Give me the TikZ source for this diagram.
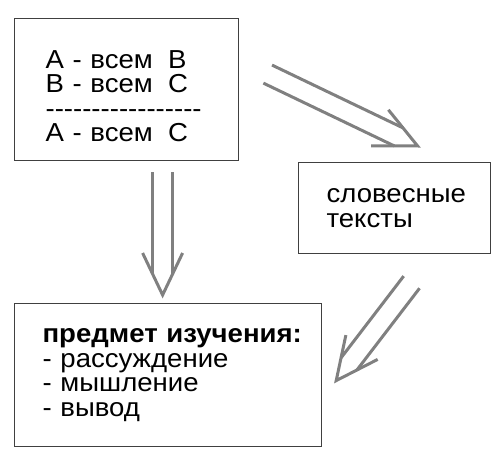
\documentclass[tikz,border=0pt]{standalone}
\usepackage{fontspec}
\setmainfont[Ligatures=TeXOff,FakeStretch=1.06]{Liberation Sans}
\usetikzlibrary{calc}

\tikzset{
  box/.style={draw=black!75, line width=1.2pt, align=left, anchor=north west,
    inner ysep=0pt, font=\fontsize{26}{24.5}\selectfont},
  dblline/.style={draw=black!50, line width=3pt},
}

% double-line arrow from #1 to #2
\newcommand{\dblarrow}[2]{%
  \coordinate (shaftend) at ($(#2)!21pt!(#1)$);
  \coordinate (headback) at ($(#2)!42pt!(#1)$);
  \draw[dblline] ($(#1)!10pt!90:(#2)$) -- ($(shaftend)!10pt!-90:(#1)$);
  \draw[dblline] ($(#1)!10pt!-90:(#2)$) -- ($(shaftend)!10pt!90:(#1)$);
  \draw[dblline, line join=miter]
    ($(headback)!20pt!90:(#2)$) -- (#2) -- ($(headback)!20pt!-90:(#2)$);
}

\begin{document}
\begin{tikzpicture}[x=1pt,y=-1pt]
  \useasboundingbox (0,0) rectangle (497,462);

  \node[box, minimum width=224pt, minimum height=142pt, inner xsep=31pt,
    text width=162pt] (logic) at (14,18)
    {\rule{0pt}{31pt}A - всем\hspace{0.25em} B\\B - всем\hspace{0.25em} C\\
     -----------------\\A - всем\hspace{0.25em} C};
  \node[box, minimum width=192pt, minimum height=91pt, inner xsep=28pt,
    text width=136pt] (texts) at (298,162) {словесные\\тексты};
  \node[box, minimum width=307pt, minimum height=143pt, inner xsep=28pt,
    text width=251pt] (subject) at (14,303)
    {\mbox{\textbf{предмет изучения:}}\\- рассуждение\\- мышление\\- вывод};

  \coordinate (downfrom) at ($(logic.south)+(36,11)$);
  \coordinate (downto) at ($(subject.north)+(-5.5,-8)$);
  \coordinate (rightfrom) at ($(logic.east)+(28.5,-15.5)$);
  \coordinate (rightto) at ($(texts.north)+(23,-16)$);
  \coordinate (backfrom) at ($(texts.south)+(17,28)$);
  \coordinate (backto) at ($(subject.east)+(14,5.5)$);

  \dblarrow{downfrom}{downto}
  \dblarrow{rightfrom}{rightto}
  \dblarrow{backfrom}{backto}
\end{tikzpicture}
\end{document}
